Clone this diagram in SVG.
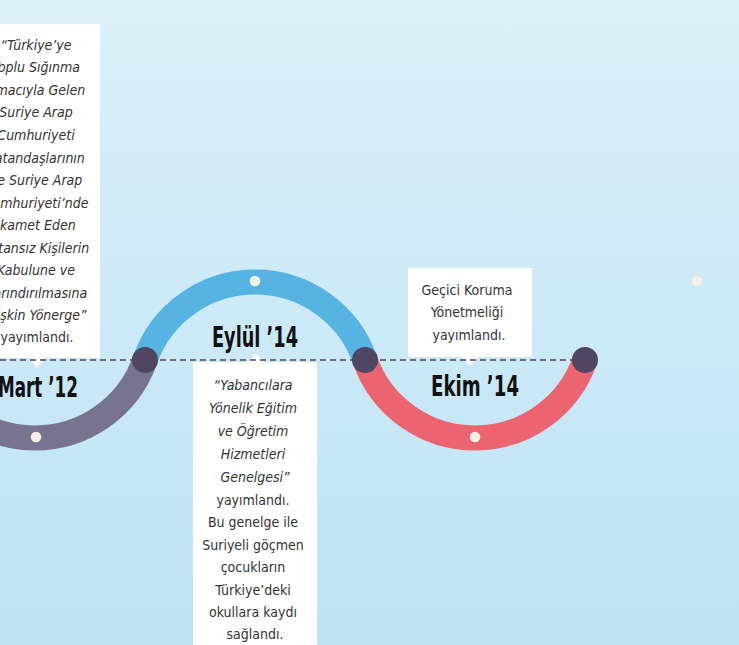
<svg xmlns="http://www.w3.org/2000/svg" width="739" height="645" viewBox="0 0 739 645">
<defs>
<linearGradient id="bg" x1="0" y1="0" x2="0" y2="1">
<stop offset="0" stop-color="#dbf0f9"/>
<stop offset="1" stop-color="#bde3f5"/>
</linearGradient>
</defs>
<style>
.arc{fill:none;stroke-width:25}
.knot{fill:#4e4662}
.dot{fill:#f4f0e4}
.box{fill:#ffffff}
.t{font-family:"DejaVu Sans Condensed","Liberation Sans",sans-serif;font-stretch:condensed;font-size:14px;fill:#333333;text-anchor:middle}
.i{font-style:italic}
.lbl{font-family:"DejaVu Sans Condensed","Liberation Sans",sans-serif;font-stretch:condensed;font-weight:bold;font-size:28px;fill:#111111}
</style>
<rect x="0" y="0" width="739" height="645" fill="url(#bg)"/>

<g id="arcs">
<path class="arc" stroke="#78738e" d="M145,360 A116.6,116.6 0 0 1 -75,360"/>
<path class="arc" stroke="#55b4e2" d="M145,360 A116.6,116.6 0 0 1 365,360"/>
<path class="arc" stroke="#ec6470" d="M365,360 A116.6,116.6 0 0 0 585,360"/>
</g>

<g id="node-mart12">
<rect class="box" x="-24" y="24" width="124" height="334"/>
<polygon class="box" points="28,357 46,357 37,368"/>
<text class="t i">
<tspan x="38" y="50">“Türkiye’ye</tspan>
<tspan x="38" y="72">Toplu Sığınma</tspan>
<tspan x="38" y="95">Amacıyla Gelen</tspan>
<tspan x="38" y="117">Suriye Arap</tspan>
<tspan x="38" y="140">Cumhuriyeti</tspan>
<tspan x="38" y="163">Vatandaşlarının</tspan>
<tspan x="38" y="185">ve Suriye Arap</tspan>
<tspan x="38" y="208">Cumhuriyeti’nde</tspan>
<tspan x="38" y="230">İkamet Eden</tspan>
<tspan x="38" y="253">Vatansız Kişilerin</tspan>
<tspan x="38" y="275">Kabulune ve</tspan>
<tspan x="38" y="298">Barındırılmasına</tspan>
<tspan x="38" y="320">İlişkin Yönerge”</tspan>
</text>
<text class="t" x="37" y="342">yayımlandı.</text>
<text class="lbl" x="-2" y="397" textLength="80" lengthAdjust="spacingAndGlyphs">Mart ’12</text>
<circle class="dot" cx="36" cy="437" r="5.3"/>
</g>

<g id="node-eylul14">
<rect class="box" x="193" y="362" width="124" height="290"/>
<polygon class="box" points="247,363 265,363 256,353"/>
<text class="t i">
<tspan x="255" y="390">“Yabancılara</tspan>
<tspan x="255" y="413">Yönelik Eğitim</tspan>
<tspan x="255" y="436">ve Öğretim</tspan>
<tspan x="255" y="459">Hizmetleri</tspan>
<tspan x="255" y="482">Genelgesi”</tspan>
</text>
<text class="t">
<tspan x="255" y="505">yayımlandı.</tspan>
<tspan x="255" y="527">Bu genelge ile</tspan>
<tspan x="255" y="550">Suriyeli göçmen</tspan>
<tspan x="255" y="572">çocukların</tspan>
<tspan x="255" y="595">Türkiye’deki</tspan>
<tspan x="255" y="617">okullara kaydı</tspan>
<tspan x="255" y="639">sağlandı.</tspan>
</text>
<text class="lbl" x="212" y="347" textLength="86" lengthAdjust="spacingAndGlyphs">Eylül ’14</text>
<circle class="dot" cx="255" cy="281" r="5.3"/>
</g>

<g id="node-ekim14">
<rect class="box" x="408" y="268" width="124" height="89"/>
<polygon class="box" points="461,356 479,356 470,366"/>
<text class="t">
<tspan x="469" y="295">Geçici Koruma</tspan>
<tspan x="469" y="317">Yönetmeliği</tspan>
<tspan x="469" y="340">yayımlandı.</tspan>
</text>
<text class="lbl" x="431" y="396" textLength="88" lengthAdjust="spacingAndGlyphs">Ekim ’14</text>
<circle class="dot" cx="475" cy="437" r="5.3"/>
</g>

<g id="node-next">
<circle class="dot" cx="697" cy="281" r="5.3"/>
</g>

<g id="connectors">
<line x1="0" y1="360" x2="585" y2="360" stroke="#4e4662" stroke-width="1.5" stroke-dasharray="6,4"/>
</g>

<g id="knots">
<circle class="knot" cx="145" cy="360" r="13"/>
<circle class="knot" cx="365" cy="360" r="13"/>
<circle class="knot" cx="585" cy="360" r="13"/>
</g>
</svg>
